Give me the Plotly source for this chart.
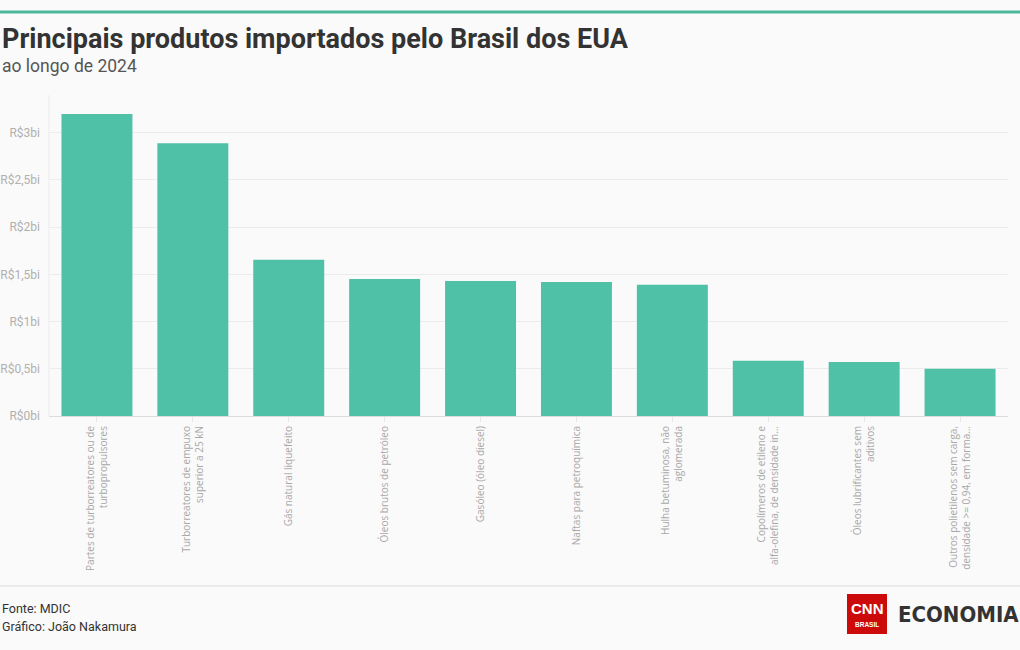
import plotly.graph_objects as go

categories = [
    "Partes de turborreatores ou de<br>turbopropulsores",
    "Turborreatores de empuxo<br>superior a 25 kN",
    "Gás natural liquefeito",
    "Óleos brutos de petróleo",
    "Gasóleo (óleo diesel)",
    "Naftas para petroquímica",
    "Hulha betuminosa, não<br>aglomerada",
    "Copolímeros de etileno e<br>alfa-olefina, de densidade in…",
    "Óleos lubrificantes sem<br>aditivos",
    "Outros polietilenos sem carga,<br>densidade >= 0,94, em forma…",
]
values_bi = [3.20, 2.89, 1.655, 1.45, 1.43, 1.42, 1.39, 0.585, 0.572, 0.50]
tick_vals = [0, 0.5, 1, 1.5, 2, 2.5, 3]
tick_text = ["R$0bi", "R$0,5bi", "R$1bi", "R$1,5bi", "R$2bi", "R$2,5bi", "R$3bi"]

W, H = 1020, 650
L, R, T, B = 49, 12, 95, 234
PW = W - L - R
PH = H - T - B

def px(x):
    return (x - L) / PW

def py(y):
    return (H - B - y) / PH

BG = "#fafafa"
fig = go.Figure(go.Bar(
    x=categories, y=values_bi,
    marker=dict(color="#4fc1a6", line=dict(width=0)),
    hoverinfo="skip",
))

fig.update_layout(
    width=W, height=H,
    margin=dict(l=L, r=R, t=T, b=B, autoexpand=False),
    paper_bgcolor=BG, plot_bgcolor=BG,
    bargap=0.26,
    showlegend=False,
    xaxis=dict(
        tickangle=-90, tickfont=dict(family="Open Sans", size=10, color="#a8a8a8"),
        ticks="outside", ticklen=5, tickcolor="#e6e6e6", showgrid=False,
        showline=False, automargin=False,
    ),
    yaxis=dict(
        range=[0, 3.4], tickvals=tick_vals, ticktext=tick_text,
        tickfont=dict(family="Roboto", size=12, color="#b0b0b0"),
        showgrid=True, gridcolor="#ececec", gridwidth=1,
        zeroline=True, zerolinecolor="#dcdcdc", zerolinewidth=1,
        showline=False, ticks="", ticklabelstandoff=8, automargin=False,
    ),
)

shapes = [
    dict(type="line", xref="paper", yref="paper", x0=px(0), x1=px(W), y0=py(12), y1=py(12),
         line=dict(color="#4db89c", width=3)),
    dict(type="line", xref="paper", yref="paper", x0=px(0), x1=px(W), y0=py(586), y1=py(586),
         line=dict(color="#dddddd", width=1)),
    dict(type="line", xref="paper", yref="paper", x0=0, x1=0, y0=0, y1=1,
         line=dict(color="#ececec", width=1), layer="below"),
    dict(type="rect", xref="paper", yref="paper", x0=px(847), x1=px(887), y0=py(634), y1=py(594),
         fillcolor="#cc0a0a", line=dict(width=0)),
]
fig.update_layout(shapes=shapes)

ann = [
    dict(text="<b>Principais produtos importados pelo Brasil dos EUA</b>", x=px(0), y=py(39),
         font=dict(family="Roboto", size=27, color="#333333")),
    dict(text="ao longo de 2024", x=px(0), y=py(66),
         font=dict(family="Roboto", size=17.5, color="#555555")),
    dict(text="Fonte: MDIC", x=px(0), y=py(608),
         font=dict(family="Roboto", size=12.5, color="#333333")),
    dict(text="Gráfico: João Nakamura", x=px(0), y=py(626),
         font=dict(family="Roboto", size=12.5, color="#333333")),
    dict(text="<b>CNN</b>", x=px(867), y=py(608), xanchor="center",
         font=dict(family="Liberation Sans", size=15, color="#ffffff")),
    dict(text="<b>BRASIL</b>", x=px(867), y=py(624), xanchor="center",
         font=dict(family="Liberation Sans", size=6.5, color="#ffffff")),
    dict(text="<b>ECONOMIA</b>", x=px(896), y=py(614),
         font=dict(family="DejaVu Sans Condensed", size=22, color="#333333")),
]
for a in ann:
    a.setdefault("xanchor", "left")
    a.update(xref="paper", yref="paper", yanchor="middle", showarrow=False)
fig.update_layout(annotations=ann)

fig.write_html("out.html", config={"displayModeBar": False},
               post_script="document.body.style.margin='0';")
